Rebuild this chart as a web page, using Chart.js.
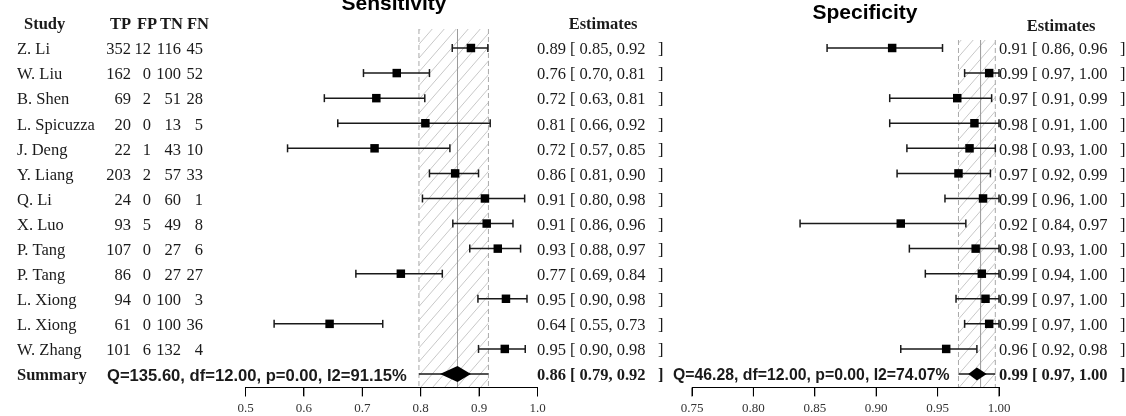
<!DOCTYPE html>
<html>
<head>
<meta charset="utf-8">
<script src="https://cdn.jsdelivr.net/npm/chart.js@4.4.0/dist/chart.umd.min.js"></script>
<style>
  html, body { margin: 0; padding: 0; background: #fff; }
  #wrap { position: relative; width: 1126px; height: 416px; overflow: hidden; }
  #wrap canvas { position: absolute; top: 0; }
  #sensChart { left: 0; }
  #specChart { left: 668px; }
</style>
</head>
<body>
<div id="wrap">
  <canvas id="sensChart" width="668" height="416"></canvas>
  <canvas id="specChart" width="458" height="416"></canvas>
</div>
<script>
// --- Study table ---
const studies = ['Z. Li', 'W. Liu', 'B. Shen', 'L. Spicuzza', 'J. Deng', 'Y. Liang', 'Q. Li',
                 'X. Luo', 'P. Tang', 'P. Tang', 'L. Xiong', 'L. Xiong', 'W. Zhang'];
const tp = [352, 162, 69, 20, 22, 203, 24, 93, 107, 86, 94, 61, 101];
const fp = [12, 0, 2, 0, 1, 2, 0, 5, 0, 0, 0, 0, 6];
const tn = [116, 100, 51, 13, 43, 57, 60, 49, 27, 27, 100, 100, 132];
const fn = [45, 52, 28, 5, 10, 33, 1, 8, 6, 27, 3, 36, 4];

// --- Sensitivity ---
const sensEst = [0.886, 0.759, 0.724, 0.808, 0.721, 0.859, 0.910, 0.913, 0.932, 0.766, 0.946, 0.644, 0.944];
const sensLo  = [0.854, 0.702, 0.635, 0.658, 0.572, 0.815, 0.803, 0.855, 0.884, 0.689, 0.898, 0.549, 0.899];
const sensHi  = [0.915, 0.815, 0.807, 0.919, 0.850, 0.899, 0.978, 0.958, 0.971, 0.837, 0.982, 0.735, 0.979];
const sensText = ['0.89 [ 0.85, 0.92 ]', '0.76 [ 0.70, 0.81 ]', '0.72 [ 0.63, 0.81 ]', '0.81 [ 0.66, 0.92 ]',
                  '0.72 [ 0.57, 0.85 ]', '0.86 [ 0.81, 0.90 ]', '0.91 [ 0.80, 0.98 ]', '0.91 [ 0.86, 0.96 ]',
                  '0.93 [ 0.88, 0.97 ]', '0.77 [ 0.69, 0.84 ]', '0.95 [ 0.90, 0.98 ]', '0.64 [ 0.55, 0.73 ]',
                  '0.95 [ 0.90, 0.98 ]'];
const sensBand = [0.797, 0.863, 0.916];     // pooled lo, pooled estimate, pooled hi
const sensDiamond = [0.833, 0.863, 0.886];
const sensSummaryText = '0.86 [ 0.79, 0.92 ]';
const sensQ = 'Q=135.60, df=12.00, p=0.00, I2=91.15%';
const sensTicks = [0.5, 0.6, 0.7, 0.8, 0.9, 1.0];

// --- Specificity ---
const specEst = [0.913, 0.992, 0.966, 0.980, 0.976, 0.967, 0.987, 0.920, 0.981, 0.986, 0.989, 0.992, 0.957];
const specLo  = [0.860, 0.972, 0.911, 0.911, 0.925, 0.917, 0.956, 0.838, 0.927, 0.940, 0.965, 0.972, 0.920];
const specHi  = [0.954, 1.000, 0.994, 1.000, 0.997, 0.993, 1.000, 0.973, 1.000, 1.000, 1.000, 1.000, 0.982];
const specText = ['0.91 [ 0.86, 0.96 ]', '0.99 [ 0.97, 1.00 ]', '0.97 [ 0.91, 0.99 ]', '0.98 [ 0.91, 1.00 ]',
                  '0.98 [ 0.93, 1.00 ]', '0.97 [ 0.92, 0.99 ]', '0.99 [ 0.96, 1.00 ]', '0.92 [ 0.84, 0.97 ]',
                  '0.98 [ 0.93, 1.00 ]', '0.99 [ 0.94, 1.00 ]', '0.99 [ 0.97, 1.00 ]', '0.99 [ 0.97, 1.00 ]',
                  '0.96 [ 0.92, 0.98 ]'];
const specBand = [0.967, 0.985, 0.997];
const specDiamond = [0.975, 0.982, 0.990];
const specSummaryText = '0.99 [ 0.97, 1.00 ]';
const specQ = 'Q=46.28, df=12.00, p=0.00, I2=74.07%';
const specTicks = [0.75, 0.80, 0.85, 0.90, 0.95, 1.00];

const SERIF = "'Liberation Serif', 'Times New Roman', serif";
const SANS = "'Liberation Sans', Arial, sans-serif";
const INK = '#1a1a1a';
const SUMMARY_ROW = studies.length;
const Y_MAX = 13.518;        // bottom of the plot area, in row units
const ROW_PX = 25.077;       // pixels per row

// --- Helpers ---
function whiskers(lo, hi, band) {
    const out = [];
    lo.forEach((v, i) => out.push({ x: v, y: i }, { x: hi[i], y: i }, { x: null, y: null }));
    out.push({ x: band[0], y: SUMMARY_ROW }, { x: band[2], y: SUMMARY_ROW });
    return out;
}
function caps(lo, hi) {
    return lo.map((v, i) => ({ x: v, y: i })).concat(hi.map((v, i) => ({ x: v, y: i })));
}
// the source pads the closing bracket a little
const padEst = s => s.replace(' ]', '   ]');

function drawText(ctx, str, x, y, font, anchor) {
    ctx.font = font;
    ctx.textAlign = anchor || 'left';
    ctx.textBaseline = 'middle';
    ctx.fillStyle = INK;
    ctx.fillText(str, x, y);
}

function makePanel(id, p) {
    const forestPlugin = {
        id: 'forest',
        beforeDatasetsDraw(chart) {
            const { ctx, chartArea: a, scales: { x } } = chart;
            const x0 = x.getPixelForValue(p.band[0]);
            const xm = x.getPixelForValue(p.band[1]);
            const x1 = x.getPixelForValue(p.band[2]);
            const h = a.bottom - a.top;
            // hatched pooled-CI band
            ctx.save();
            ctx.beginPath();
            ctx.rect(x0, a.top, x1 - x0, h);
            ctx.clip();
            ctx.strokeStyle = '#c8c8c8';
            ctx.lineWidth = 1;
            ctx.beginPath();
            for (let s = x0 - h; s < x1 + 12; s += 12) {
                ctx.moveTo(s, a.bottom);
                ctx.lineTo(s + h / 1.15, a.top);
            }
            ctx.stroke();
            ctx.restore();

            ctx.save();
            ctx.strokeStyle = '#aaaaaa';
            ctx.lineWidth = 1;
            ctx.setLineDash([5, 3]);
            ctx.beginPath();
            ctx.moveTo(x0, a.top); ctx.lineTo(x0, a.bottom);
            ctx.moveTo(x1, a.top); ctx.lineTo(x1, a.bottom);
            ctx.stroke();
            ctx.restore();

            ctx.save();
            ctx.strokeStyle = '#9a9a9a';
            ctx.lineWidth = 1;
            ctx.beginPath();
            ctx.moveTo(xm, a.top); ctx.lineTo(xm, a.bottom);
            ctx.stroke();
            ctx.restore();
        },
        afterDatasetsDraw(chart) {
            const { ctx, scales: { x, y } } = chart;
            const yc = y.getPixelForValue(SUMMARY_ROW);
            const yt = y.getPixelForValue(SUMMARY_ROW - p.diamondH);
            const yb = y.getPixelForValue(SUMMARY_ROW + p.diamondH);
            ctx.save();
            ctx.fillStyle = '#000';
            ctx.beginPath();
            ctx.moveTo(x.getPixelForValue(p.diamond[0]), yc);
            ctx.lineTo(x.getPixelForValue(p.diamond[1]), yt);
            ctx.lineTo(x.getPixelForValue(p.diamond[2]), yc);
            ctx.lineTo(x.getPixelForValue(p.diamond[1]), yb);
            ctx.closePath();
            ctx.fill();
            ctx.restore();
        },
        afterDraw(chart) {
            const { ctx, scales: { y } } = chart;
            const row = i => y.getPixelForValue(i) + 2;
            ctx.save();
            p.labels(ctx, row);
            ctx.restore();
        }
    };

    const first = p.ticks[0], last = p.ticks[p.ticks.length - 1];

    return new Chart(document.getElementById(id), {
        type: 'scatter',
        data: {
            datasets: [
                {
                    data: p.est.map((v, i) => ({ x: v, y: i })),
                    pointStyle: 'rect',
                    pointRadius: 6,
                    pointBackgroundColor: '#000',
                    pointBorderWidth: 0,
                    clip: false
                },
                {
                    data: caps(p.lo, p.hi),
                    pointStyle: 'line',
                    pointRotation: 90,
                    pointRadius: 4,
                    pointBorderColor: INK,
                    pointBorderWidth: 1.5,
                    clip: false
                },
                {
                    data: whiskers(p.lo, p.hi, p.band),
                    showLine: true,
                    spanGaps: false,
                    pointRadius: 0,
                    borderColor: INK,
                    borderWidth: 1.5,
                    clip: false
                },
                {
                    // axis baseline along the bottom of the plot area
                    data: [{ x: first, y: Y_MAX + 0.5 / ROW_PX }, { x: last, y: Y_MAX + 0.5 / ROW_PX }],
                    showLine: true,
                    pointRadius: 0,
                    borderColor: '#000',
                    borderWidth: 1,
                    clip: false
                },
                {
                    // downward tick marks at the scale's tick values
                    data: p.ticks.map(v => ({ x: v, y: Y_MAX + 5 / ROW_PX })),
                    pointStyle: 'line',
                    pointRotation: 90,
                    pointRadius: 4.5,
                    pointBorderColor: '#000',
                    pointBorderWidth: 1,
                    clip: false
                }
            ]
        },
        options: {
            responsive: false,
            animation: false,
            events: [],
            layout: { padding: p.padding },
            plugins: { legend: { display: false }, tooltip: { enabled: false } },
            scales: {
                x: {
                    type: 'linear',
                    min: first,
                    max: last,
                    afterBuildTicks: s => { s.ticks = p.ticks.map(v => ({ value: v })); },
                    afterFit: s => { s.height = 29; },
                    border: { display: true, color: '#000', width: 1 },
                    grid: { drawOnChartArea: false, drawTicks: true, tickLength: 9, tickColor: '#000' },
                    ticks: {
                        padding: 5,
                        color: '#333',
                        font: { family: SERIF, size: 13 },
                        callback: v => v.toFixed(p.decimals)
                    }
                },
                y: {
                    type: 'linear',
                    display: false,
                    reverse: true,
                    min: p.yMin,
                    max: Y_MAX
                }
            }
        },
        plugins: [forestPlugin]
    });
}

const rowFont = '16.5px ' + SERIF;
const boldRow = 'bold 16.5px ' + SERIF;
const titleFont = 'bold 21px ' + SANS;

// --- Sensitivity panel (canvas at x = 0) ---
makePanel('sensChart', {
    est: sensEst, lo: sensLo, hi: sensHi, band: sensBand, diamond: sensDiamond, diamondH: 0.32,
    ticks: sensTicks, decimals: 1, yMin: -0.758,
    padding: { left: 245.5, right: 130.5, top: 29, bottom: 0 },
    labels(ctx, row) {
        ctx.font = titleFont; ctx.textAlign = 'center'; ctx.textBaseline = 'alphabetic'; ctx.fillStyle = '#000';
        ctx.fillText('Sensitivity', 394, 10);

        drawText(ctx, 'Study', 24, row(-1), boldRow);
        drawText(ctx, 'TP', 110, row(-1), boldRow);
        drawText(ctx, 'FP', 137, row(-1), boldRow);
        drawText(ctx, 'TN', 160, row(-1), boldRow);
        drawText(ctx, 'FN', 187, row(-1), boldRow);
        drawText(ctx, 'Estimates', 603, row(-1), boldRow, 'center');

        studies.forEach((s, i) => {
            const yy = row(i);
            drawText(ctx, s, 17, yy, rowFont);
            drawText(ctx, String(tp[i]), 131, yy, rowFont, 'right');
            drawText(ctx, String(fp[i]), 151, yy, rowFont, 'right');
            drawText(ctx, String(tn[i]), 181, yy, rowFont, 'right');
            drawText(ctx, String(fn[i]), 203, yy, rowFont, 'right');
            drawText(ctx, padEst(sensText[i]), 537, yy, rowFont);
        });

        drawText(ctx, 'Summary', 17, row(SUMMARY_ROW), boldRow);
        drawText(ctx, sensQ, 107, row(SUMMARY_ROW), 'bold 16.6px ' + SANS);
        drawText(ctx, padEst(sensSummaryText), 537, row(SUMMARY_ROW), boldRow);
    }
});

// --- Specificity panel (canvas at x = 668) ---
makePanel('specChart', {
    est: specEst, lo: specLo, hi: specHi, band: specBand, diamond: specDiamond, diamondH: 0.26,
    ticks: specTicks, decimals: 2, yMin: -0.319,
    padding: { left: 24, right: 127, top: 40, bottom: 0 },
    labels(ctx, row) {
        ctx.font = titleFont; ctx.textAlign = 'center'; ctx.textBaseline = 'alphabetic'; ctx.fillStyle = '#000';
        ctx.fillText('Specificity', 197, 19);

        drawText(ctx, 'Estimates', 393, row(-1) + 2, boldRow, 'center');
        specText.forEach((s, i) => drawText(ctx, padEst(s), 331, row(i), rowFont));
        drawText(ctx, specQ, 5, row(SUMMARY_ROW), 'bold 15.8px ' + SANS);
        drawText(ctx, padEst(specSummaryText), 331, row(SUMMARY_ROW), boldRow);
    }
});
</script>
</body>
</html>
